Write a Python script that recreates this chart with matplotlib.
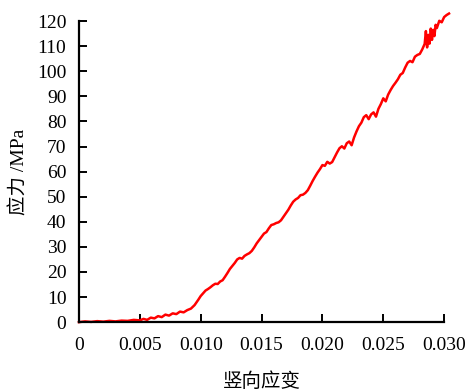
import matplotlib.pyplot as plt

plt.rcParams['font.family'] = ['Liberation Serif', 'Noto Sans CJK SC']

strain = [0.0000, 0.0005, 0.0010, 0.0015, 0.0020, 0.0025, 0.0030, 0.0035, 0.0040, 0.0045,
          0.0050, 0.0053, 0.0056, 0.0059, 0.0062, 0.0065, 0.0068, 0.0071, 0.0074, 0.0077,
          0.0080, 0.0083, 0.0086, 0.0089, 0.0092, 0.0095, 0.0098, 0.0100, 0.0102, 0.0104,
          0.0106, 0.0108, 0.0110, 0.0112, 0.0114, 0.0116, 0.0118, 0.0120, 0.0122, 0.0124,
          0.0126, 0.0128, 0.0130, 0.0132, 0.0134, 0.0136, 0.0138, 0.0140, 0.0142, 0.0144,
          0.0146, 0.0148, 0.0150, 0.0152, 0.0154, 0.0156, 0.0158, 0.0160, 0.0162, 0.0164,
          0.0166, 0.0168, 0.0170, 0.0172, 0.0174, 0.0176, 0.0178, 0.0180, 0.0182, 0.0184,
          0.0186, 0.0188, 0.0190, 0.0192, 0.0194, 0.0196, 0.0198, 0.0200, 0.0202, 0.0204,
          0.0206, 0.0208, 0.0210, 0.0212, 0.0214, 0.0216, 0.0218, 0.0220, 0.0222, 0.0224,
          0.0226, 0.0228, 0.0230, 0.0232, 0.0234, 0.0236, 0.0238, 0.0240, 0.0242, 0.0244,
          0.0246, 0.0248, 0.0250, 0.0252, 0.0254, 0.0256, 0.0258, 0.0260, 0.0262, 0.0264,
          0.0266, 0.0268, 0.0270, 0.0272, 0.0274, 0.0276, 0.0278, 0.0280, 0.0282, 0.0284,
          0.0285, 0.0286, 0.0287, 0.0288, 0.0289, 0.0290, 0.0291, 0.0292, 0.0293, 0.0294,
          0.0296, 0.0298, 0.0300, 0.0302, 0.0304]
stress = [0.0, 0.3, 0.1, 0.4, 0.2, 0.5, 0.3, 0.6, 0.5, 0.9,
          0.7, 1.3, 0.9, 1.8, 1.5, 2.4, 2.0, 3.0, 2.6, 3.5,
          3.2, 4.2, 3.9, 4.8, 5.4, 6.8, 8.9, 10.4, 11.5, 12.6,
          13.2, 13.9, 14.7, 15.3, 15.2, 16.2, 16.7, 18.1, 19.6, 21.2,
          22.4, 23.6, 25.0, 25.6, 25.3, 26.4, 27.0, 27.5, 28.4, 29.8,
          31.4, 32.7, 34.0, 35.3, 35.9, 37.4, 38.7, 39.0, 39.5, 39.8,
          40.6, 42.0, 43.4, 44.8, 46.5, 48.0, 48.9, 49.5, 50.6, 50.8,
          51.5, 52.6, 54.4, 56.3, 58.0, 59.6, 61.0, 62.6, 62.3, 63.9,
          63.2, 63.8, 65.7, 67.6, 69.3, 70.1, 69.2, 71.3, 72.0, 70.5,
          73.6, 76.0, 78.1, 79.5, 81.7, 82.5, 80.9, 82.8, 83.6, 81.9,
          85.0, 86.9, 89.2, 88.0, 90.7, 92.5, 94.1, 95.4, 96.8, 98.6,
          99.3, 101.5, 103.4, 104.1, 103.6, 105.8, 106.5, 106.9, 108.7, 110.9,
          116.0, 109.5, 114.5, 111.0, 117.0, 112.5, 116.5, 114.0, 118.5, 117.2,
          120.1, 119.5, 121.6, 122.4, 123.0]

xticks = [0, 0.005, 0.010, 0.015, 0.020, 0.025, 0.030]
xtick_labels = ['0', '0.005', '0.010', '0.015', '0.020', '0.025', '0.030']
yticks = list(range(0, 121, 10))

fig = plt.figure(figsize=(4.7, 3.9), dpi=100)
ax = fig.add_axes([0.168, 0.174, 0.777, 0.772])
ax.plot(strain, stress, color='#ff0000', lw=1.8, clip_on=False)
ax.set_xlim(0, 0.030)
ax.set_ylim(0, 120)
ax.set_xticks(xticks, xtick_labels)
ax.set_yticks(yticks)
ax.spines['top'].set_visible(False)
ax.spines['right'].set_visible(False)
for s in ['left', 'bottom']:
    ax.spines[s].set_linewidth(1.6)
ax.tick_params(direction='in', length=6, width=1.4, labelsize=14)
ax.tick_params(axis='x', pad=11)
ax.tick_params(axis='y', pad=9)
ax.set_xlabel('竖向应变', fontsize=14, labelpad=13)
ax.set_ylabel('应力 /MPa', fontsize=14, labelpad=6)
fig.savefig('out.png', dpi=100)
plt.close()
